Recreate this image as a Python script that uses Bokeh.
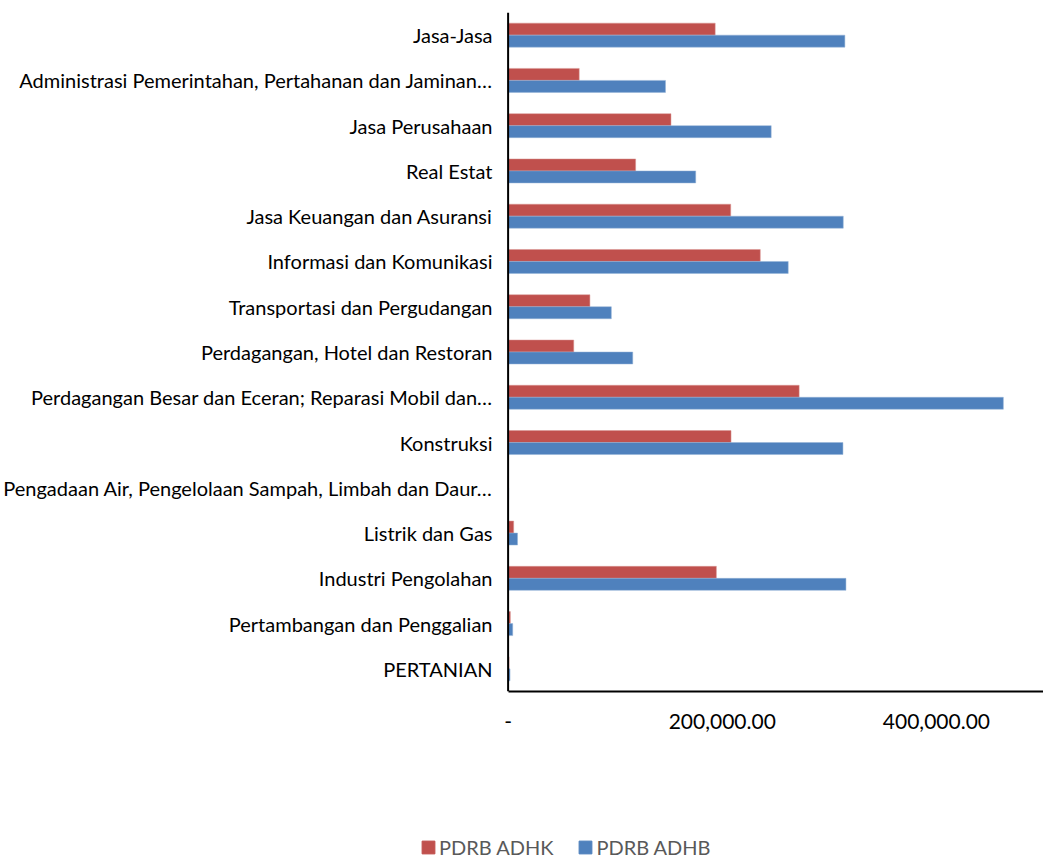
from bokeh.plotting import figure
from bokeh.layouts import column
from bokeh.models import (ColumnDataSource, FactorRange, Range1d, FixedTicker, Legend,
                          LegendItem, Span)
from bokeh.transform import dodge
from bokeh.embed import file_html
from bokeh.resources import INLINE

categories = [
    "Jasa-Jasa",
    "Administrasi Pemerintahan, Pertahanan dan Jaminan…",
    "Jasa Perusahaan",
    "Real Estat",
    "Jasa Keuangan dan Asuransi",
    "Informasi dan Komunikasi",
    "Transportasi dan Pergudangan",
    "Perdagangan, Hotel dan Restoran",
    "Perdagangan Besar dan Eceran; Reparasi Mobil dan…",
    "Konstruksi",
    "Pengadaan Air, Pengelolaan Sampah, Limbah dan Daur…",
    "Listrik dan Gas",
    "Industri Pengolahan",
    "Pertambangan dan Penggalian",
    "PERTANIAN",
]
pdrb_adhk = [193400, 66400, 152100, 119100, 207900, 235500, 76400, 61300,
             271800, 208200, 300, 5200, 194500, 2100, 900]
pdrb_adhb = [314500, 147000, 245700, 175200, 313000, 261600, 96400, 116400,
             462500, 312700, 500, 8800, 315500, 4300, 1800]
series_names = ["PDRB ADHK", "PDRB ADHB"]
series_colors = ["#C0504D", "#4F81BD"]
tick_values = [0, 200000, 400000]
tick_labels = ["-", "200,000.00", "400,000.00"]

X_MIN, X_MAX = -81818, 499999   # view window (frame starts left of the zero line)

source = ColumnDataSource(dict(cat=categories, adhk=pdrb_adhk, adhb=pdrb_adhb))

p = figure(width=1043, height=760, output_backend="svg", toolbar_location=None,
           y_range=FactorRange(factors=categories[::-1], range_padding=0),
           x_range=Range1d(X_MIN, X_MAX),
           min_border_left=403, min_border_right=0, min_border_top=12, min_border_bottom=69)
p.outline_line_color = None
p.grid.grid_line_color = None

p.hbar(y=dodge("cat", 0.1325, range=p.y_range), right="adhk", left=0, height=0.265,
       source=source, fill_color=series_colors[0], line_color="#D99694", line_width=0.5)
p.hbar(y=dodge("cat", -0.1325, range=p.y_range), right="adhb", left=0, height=0.265,
       source=source, fill_color=series_colors[1], line_color="#95B3D7", line_width=0.5)

# vertical axis line at value zero
p.add_layout(Span(location=0, dimension="height", line_color="black", line_width=2))

p.xaxis.ticker = FixedTicker(ticks=tick_values)
p.xaxis.bounds = (0, X_MAX)
p.xaxis.major_label_overrides = {v: l for v, l in zip(tick_values, tick_labels)}
p.xaxis.major_tick_line_color = None
p.xaxis.minor_tick_line_color = None
p.xaxis.axis_line_color = "black"
p.xaxis.axis_line_width = 2
p.xaxis.major_label_text_font = "Lato"
p.xaxis.major_label_text_font_size = "21px"
p.xaxis.major_label_text_color = "black"
p.xaxis.major_label_standoff = 16

p.yaxis.major_tick_line_color = None
p.yaxis.minor_tick_line_color = None
p.yaxis.axis_line_color = None
p.yaxis.major_label_text_font = "Lato"
p.yaxis.major_label_text_font_size = "20px"
p.yaxis.major_label_text_color = "black"
p.yaxis.major_label_standoff = -78

# legend strip below the chart
p2 = figure(width=1043, height=101, output_backend="svg", toolbar_location=None,
            x_range=Range1d(0, 1), y_range=Range1d(0, 1),
            x_axis_location=None, y_axis_location=None,
            min_border_left=403, min_border_right=0, min_border_top=0, min_border_bottom=0)
p2.outline_line_color = None
p2.grid.grid_line_color = None
items = []
for name, col in zip(series_names, series_colors):
    # legend-only renderer, its bar lies outside the visible strip
    rr = p2.hbar(y=[-5], right=[0.5], left=0, height=0.5, fill_color=col, line_color=col)
    items.append(LegendItem(label=name, renderers=[rr]))
legend = Legend(items=items, orientation="horizontal", location=(0, 2))
legend.border_line_color = None
legend.background_fill_alpha = 0
legend.label_text_font = "Lato"
legend.label_text_font_size = "20px"
legend.label_text_color = "#595959"
legend.glyph_width = 16
legend.glyph_height = 16
legend.label_standoff = 3
legend.spacing = 24
legend.padding = 0
legend.margin = 0
p2.add_layout(legend, "center")

layout = column(p, p2, spacing=0)
open("out.html", "w").write(file_html(layout, INLINE))
